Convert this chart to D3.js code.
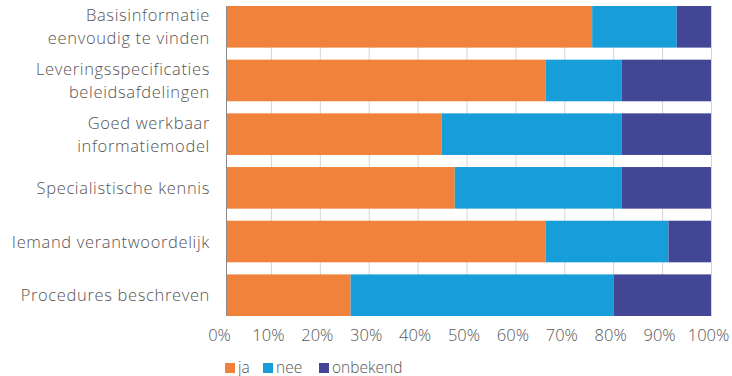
<!DOCTYPE html>
<html>
<head>
<meta charset="utf-8">
<script src="https://cdn.jsdelivr.net/npm/d3@7"></script>
<style>
  html, body { margin: 0; padding: 0; background: #fff; }
  svg { display: block; font-family: "Open Sans", "Noto Sans", sans-serif; font-weight: 300; }
</style>
</head>
<body>
<svg id="chart" width="732" height="376"></svg>
<script>
// Categories, top to bottom ("\n" marks a forced line break)
const categories = [
  "Basisinformatie\neenvoudig te vinden",
  "Leveringsspecificaties\nbeleidsafdelingen",
  "Goed werkbaar\ninformatiemodel",
  "Specialistische kennis",
  "Iemand verantwoordelijk",
  "Procedures beschreven"
];

// Share of answers per category (percent)
const ja       = [75.7, 66.2, 44.9, 47.6, 66.2, 26.3];
const nee      = [17.3, 15.5, 36.8, 34.1, 25.1, 53.8];
const onbekend = [ 7.0, 18.3, 18.3, 18.3,  8.7, 19.9];

const seriesNames = ["ja", "nee", "onbekend"];
const seriesColors = ["#f1823b", "#179dd8", "#434595"];

const tickValues = [0, 10, 20, 30, 40, 50, 60, 70, 80, 90, 100];

// Layout
const svg = d3.select("#chart");
const plot = { left: 222, right: 711, top: 6, bottom: 316, axisX: 226 };
const textColor = "#555555";

const x = d3.scaleLinear().domain([0, 100]).range([plot.left, plot.right]);
const y = d3.scaleBand().domain(categories).range([plot.top, plot.bottom])
  .paddingInner(0.225).paddingOuter(0);

// Stack the three series
const rows = categories.map((c, i) => ({ cat: c, ja: ja[i], nee: nee[i], onbekend: onbekend[i] }));
const stacked = d3.stack().keys(seriesNames)(rows);

// Vertical gridlines
svg.append("g")
  .selectAll("line")
  .data(tickValues.filter(t => t > 0))
  .join("line")
  .attr("x1", d => x(d) + 0.5).attr("x2", d => x(d) + 0.5)
  .attr("y1", plot.top).attr("y2", plot.bottom)
  .attr("stroke", "#d4d4d4").attr("stroke-width", 1);

// Bars, clipped at the category axis
svg.append("clipPath").attr("id", "plotclip")
  .append("rect")
  .attr("x", plot.axisX).attr("y", 0)
  .attr("width", plot.right - plot.axisX).attr("height", plot.bottom);

const barsG = svg.append("g").attr("clip-path", "url(#plotclip)");
barsG.selectAll("g")
  .data(stacked)
  .join("g")
  .attr("fill", (d, i) => seriesColors[i])
  .selectAll("rect")
  .data(d => d)
  .join("rect")
  .attr("x", d => x(d[0]))
  .attr("width", d => x(d[1]) - x(d[0]))
  .attr("y", d => y(d.data.cat))
  .attr("height", y.bandwidth());

// Category axis line
svg.append("line")
  .attr("x1", plot.axisX + 0.5).attr("x2", plot.axisX + 0.5)
  .attr("y1", plot.top).attr("y2", plot.bottom)
  .attr("stroke", "#8a8a8a").attr("stroke-width", 1);

// Category labels
const lineHeight = 22.7;
const catLabels = svg.append("g")
  .attr("text-anchor", "end")
  .attr("fill", textColor)
  .style("font-size", "16.5px")
  .style("letter-spacing", "0.65px");
categories.forEach(c => {
  const lines = c.split("\n");
  const cy = y(c) + y.bandwidth() / 2;
  const t = catLabels.append("text")
    .attr("x", 210)
    .attr("y", cy - (lines.length - 1) * lineHeight / 2 + 6);
  lines.forEach((ln, j) => {
    t.append("tspan").attr("x", 210).attr("dy", j === 0 ? 0 : lineHeight).text(ln);
  });
});

// Value axis
const xAxis = d3.axisBottom(x)
  .tickValues(tickValues)
  .tickSize(0)
  .tickPadding(0)
  .tickFormat(d => d + "%");
const ax = svg.append("g")
  .attr("transform", `translate(-3, ${plot.bottom + 25})`)
  .call(xAxis);
ax.select(".domain").remove();
ax.selectAll("text")
  .attr("dy", 0)
  .attr("y", 0)
  .attr("fill", textColor)
  .style("font-size", "16.5px")
  .style("font-weight", "300")
  .style("font-family", "'Open Sans', 'Noto Sans', sans-serif");

// Legend
const legendX = [225, 263, 319];
const legend = svg.append("g").style("font-size", "15.5px");
seriesNames.forEach((name, i) => {
  legend.append("rect")
    .attr("x", legendX[i]).attr("y", 363)
    .attr("width", 10).attr("height", 10)
    .attr("fill", seriesColors[i]);
  legend.append("text")
    .attr("x", legendX[i] + 13).attr("y", 372.5)
    .attr("fill", textColor)
    .text(name);
});
</script>
</body>
</html>
